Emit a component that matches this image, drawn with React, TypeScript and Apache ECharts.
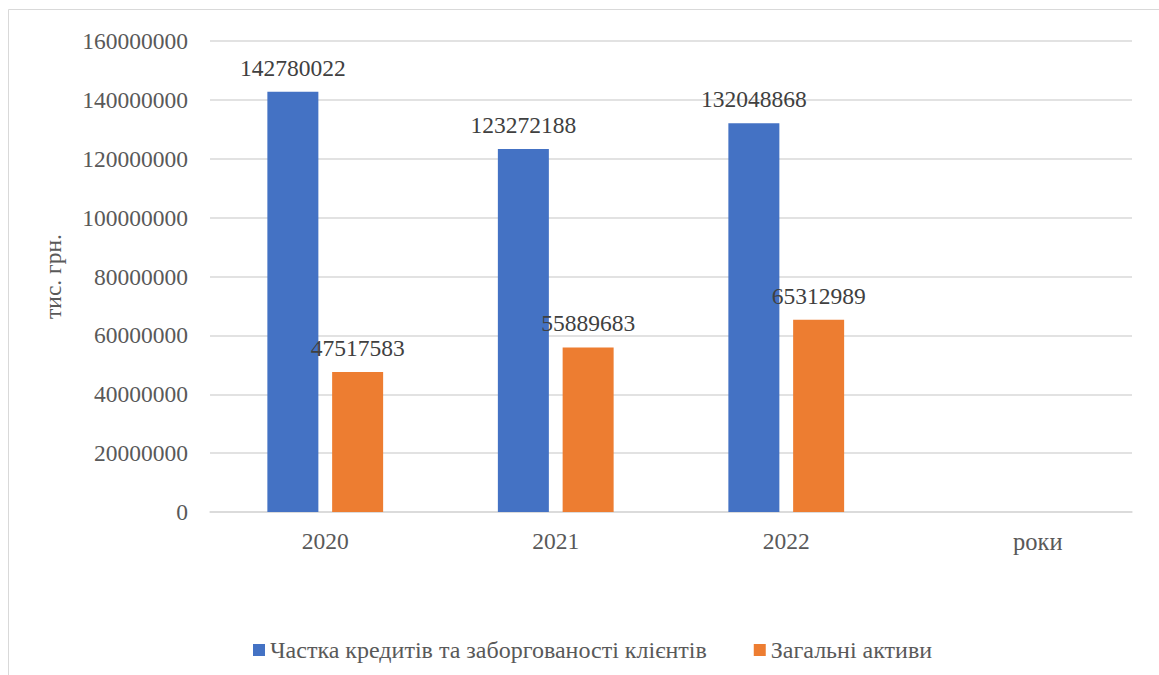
import React, { useEffect, useRef } from "react";
import * as echarts from "echarts";

const categories = ["2020", "2021", "2022", "роки"];
const loansShare = [142780022, 123272188, 132048868];
const totalAssets = [47517583, 55889683, 65312989];
const seriesNames = ["Частка кредитів та заборгованості клієнтів", "Загальні активи"];
const yAxisName = "тис. грн.";

const FONT = "Times New Roman, Liberation Serif, serif";
const TXT = "#595959";
const FS = 23.5;

export default function App() {
  const ref = useRef<HTMLDivElement>(null);
  useEffect(() => {
    const chart = echarts.init(ref.current!, null, { renderer: "svg" });
    const label = {
      show: true,
      position: "top",
      distance: 12,
      fontFamily: FONT,
      fontSize: FS,
      color: "#404040",
      formatter: (p: any) => String(p.value),
    };
    chart.setOption({
      animation: false,
      backgroundColor: "#ffffff",
      textStyle: { fontFamily: FONT },
      graphic: [
        {
          type: "rect",
          shape: { x: 8.5, y: 9.5, width: 1200, height: 700 },
          style: { fill: "none", stroke: "#d9d9d9", lineWidth: 1 },
          silent: true,
        },
      ],
      grid: { left: 210, right: 27, top: 41, bottom: 163, containLabel: false },
      legend: {
        left: 248,
        top: 633,
        itemWidth: 12,
        itemHeight: 12,
        itemGap: 47,
        icon: "rect",
        textStyle: { fontFamily: FONT, fontSize: 24, color: TXT },
        data: seriesNames,
      },
      xAxis: {
        type: "category",
        data: categories,
        axisLine: { show: true, lineStyle: { color: "#d9d9d9", width: 1.5 } },
        axisTick: { show: false },
        axisLabel: {
          fontFamily: FONT,
          fontSize: FS,
          color: TXT,
          margin: 17,
          formatter: (v: string, i: number) => (i === categories.length - 1 ? "{r|" + v + "}" : v),
          rich: {
            r: { fontFamily: FONT, fontSize: 24.5, color: TXT, padding: [0, 0, 0, 42] },
          },
        },
      },
      yAxis: {
        type: "value",
        min: 0,
        max: 160000000,
        interval: 20000000,
        name: yAxisName,
        nameLocation: "middle",
        nameGap: 145,
        nameTextStyle: { fontFamily: FONT, fontSize: FS, color: TXT },
        axisLine: { show: false },
        axisTick: { show: false },
        splitLine: { lineStyle: { color: "#d9d9d9", width: 1.5 } },
        axisLabel: {
          fontFamily: FONT,
          fontSize: FS,
          color: TXT,
          margin: 22,
          formatter: (v: number) => String(v),
        },
      },
      series: [
        {
          name: seriesNames[0],
          type: "bar",
          data: loansShare,
          itemStyle: { color: "#4472C4" },
          barWidth: 51,
          barGap: "27%",
          label,
        },
        {
          name: seriesNames[1],
          type: "bar",
          data: totalAssets,
          itemStyle: { color: "#ED7D31" },
          barWidth: 51,
          barGap: "27%",
          label,
        },
      ],
    });
    return () => chart.dispose();
  }, []);
  return (
    <div
      ref={ref}
      style={{ position: "fixed", left: 0, top: 0, width: 1159, height: 675 }}
    />
  );
}
